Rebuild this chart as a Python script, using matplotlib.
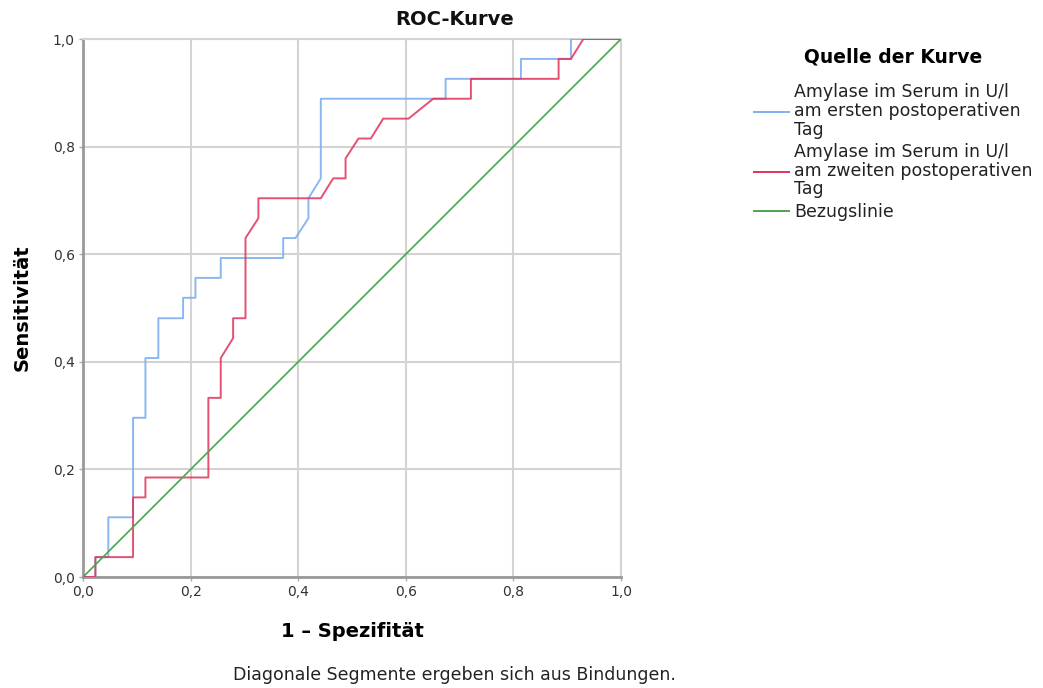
import matplotlib
matplotlib.use("Agg")
import matplotlib.pyplot as plt
from matplotlib.lines import Line2D

# ROC curve coordinates (1 - specificity, sensitivity)
fpr_tag1 = [0.0, 0.023, 0.023, 0.047, 0.047, 0.093, 0.093, 0.116, 0.116, 0.140, 0.140,
            0.186, 0.186, 0.209, 0.209, 0.256, 0.256, 0.372, 0.372, 0.395, 0.419, 0.419,
            0.442, 0.442, 0.674, 0.674, 0.814, 0.814, 0.907, 0.907, 1.0]
tpr_tag1 = [0.0, 0.0, 0.037, 0.037, 0.111, 0.111, 0.296, 0.296, 0.407, 0.407, 0.481,
            0.481, 0.519, 0.519, 0.556, 0.556, 0.593, 0.593, 0.630, 0.630, 0.667, 0.704,
            0.741, 0.889, 0.889, 0.926, 0.926, 0.963, 0.963, 1.0, 1.0]

fpr_tag2 = [0.0, 0.023, 0.023, 0.093, 0.093, 0.116, 0.116, 0.233, 0.233, 0.256, 0.256,
            0.279, 0.279, 0.302, 0.302, 0.326, 0.326, 0.442, 0.465, 0.488, 0.488, 0.512,
            0.535, 0.558, 0.605, 0.651, 0.721, 0.721, 0.884, 0.884, 0.907, 0.930, 1.0]
tpr_tag2 = [0.0, 0.0, 0.037, 0.037, 0.148, 0.148, 0.185, 0.185, 0.333, 0.333, 0.407,
            0.444, 0.481, 0.481, 0.630, 0.667, 0.704, 0.704, 0.741, 0.741, 0.778, 0.815,
            0.815, 0.852, 0.852, 0.889, 0.889, 0.926, 0.926, 0.963, 0.963, 1.0, 1.0]

ref_x = [0.0, 1.0]
ref_y = [0.0, 1.0]

labels = ["Amylase im Serum in U/l\nam ersten postoperativen\nTag",
          "Amylase im Serum in U/l\nam zweiten postoperativen\nTag",
          "Bezugslinie"]
colors = ["#7fb0ef", "#e0325a", "#4fa34f"]

ticks = [0.0, 0.2, 0.4, 0.6, 0.8, 1.0]
tick_labels = ["0,0", "0,2", "0,4", "0,6", "0,8", "1,0"]

plt.rcParams["font.family"] = ["DejaVu Sans"]

fig = plt.figure(figsize=(10.43, 6.88), dpi=100)
ax = fig.add_axes([0.0796, 0.1613, 0.5158, 0.782])

ax.plot(fpr_tag1, tpr_tag1, color=colors[0], lw=1.4, alpha=0.9, zorder=3)
ax.plot(fpr_tag2, tpr_tag2, color=colors[1], lw=1.4, alpha=0.85, zorder=4)
ax.plot(ref_x, ref_y, color=colors[2], lw=1.2, zorder=5)

ax.set_xlim(0, 1)
ax.set_ylim(0, 1)
ax.set_xticks(ticks)
ax.set_xticklabels(tick_labels, fontsize=10, color="#333333")
ax.set_yticks(ticks)
ax.set_yticklabels(tick_labels, fontsize=10, color="#333333")
ax.tick_params(length=3, width=1, color="#aaaaaa", pad=3)
ax.grid(True, color="#d3d3d3", lw=1.5, zorder=1)
for side in ("left", "bottom"):
    ax.spines[side].set_color("#999999")
    ax.spines[side].set_linewidth(2.0)
for side in ("top", "right"):
    ax.spines[side].set_color("#d3d3d3")
    ax.spines[side].set_linewidth(1.5)

fig.text(0.436, 0.971, "ROC-Kurve", fontsize=14, fontweight="bold",
         ha="center", va="center", color="#111111")
ax.set_xlabel("1 \u2013 Spezifit\u00e4t", fontsize=14, fontweight="bold", labelpad=16)
ax.set_ylabel("Sensitivit\u00e4t", fontsize=14, fontweight="bold", labelpad=15)

fig.text(0.436, 0.019, "Diagonale Segmente ergeben sich aus Bindungen.",
         fontsize=12.5, ha="center", va="center", color="#222222")

handles = [Line2D([], [], color=c, lw=1.4) for c in colors]
leg = fig.legend(handles, labels, loc="upper left", bbox_to_anchor=(0.723, 0.931),
                 frameon=False, fontsize=12.5, title="Quelle der Kurve",
                 title_fontproperties={"weight": "bold", "size": 13.5},
                 handlelength=2.0, handletextpad=0.3, labelspacing=0.25,
                 borderaxespad=0.0, borderpad=0.0)
leg._legend_box.sep = 12
for t in leg.get_texts():
    t.set_linespacing(1.05)
    t.set_color("#222222")

fig.savefig("out.png", dpi=100, facecolor="white")
